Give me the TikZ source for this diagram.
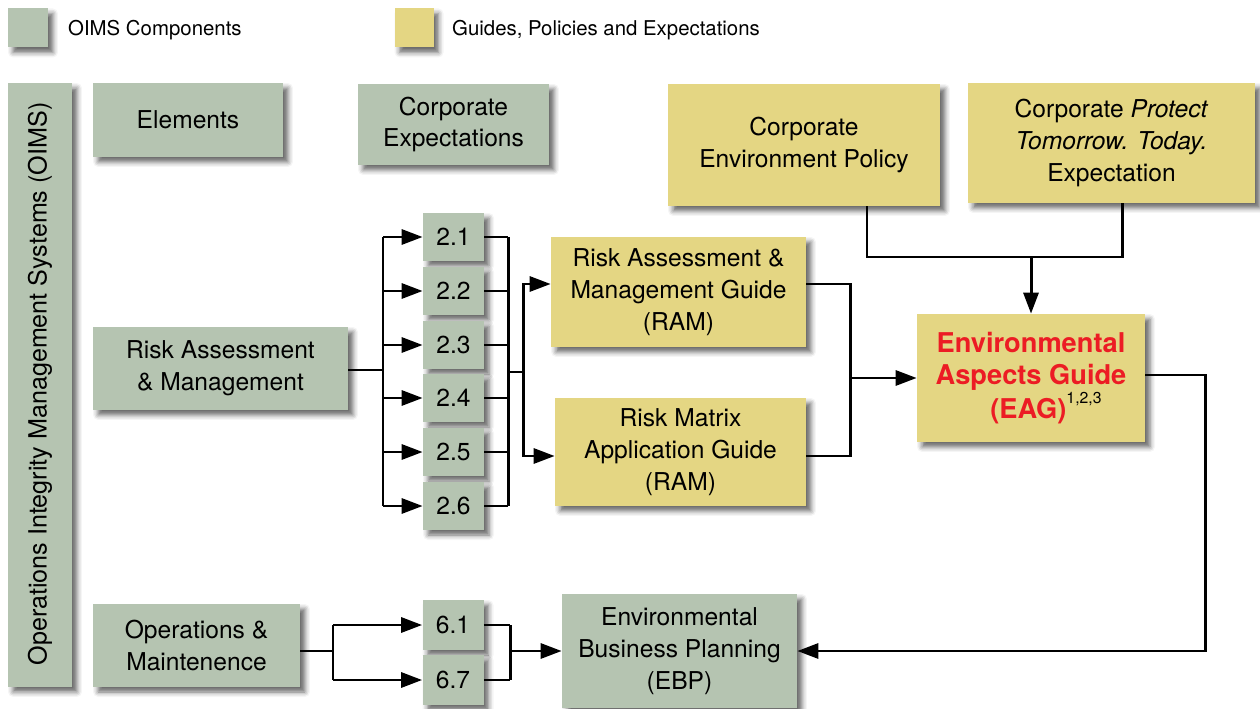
\documentclass[tikz,border=0pt]{standalone}
\usepackage{fontspec}
\setmainfont{TeX Gyre Heros}
\usetikzlibrary{arrows.meta,shadows.blur}

\definecolor{oimsgreen}{RGB}{181,196,177}
\definecolor{guideyellow}{RGB}{228,214,131}
\definecolor{eagred}{RGB}{236,28,36}

\tikzset{
  boxshadow/.style={blur shadow={shadow xshift=0.1cm,shadow yshift=-0.1cm,
    shadow blur radius=0.1cm,shadow opacity=60}},
  comp/.style={fill=oimsgreen,boxshadow,align=center,inner sep=0pt,
    font=\fontsize{14}{18.2}\selectfont},
  guide/.style={fill=guideyellow,boxshadow,align=center,inner sep=0pt,
    font=\fontsize{14}{18.2}\selectfont},
  sub/.style={comp,minimum width=1.22cm,minimum height=0.96cm},
  legend/.style={anchor=west,font=\fontsize{11.6}{13}\selectfont},
  conn/.style={line width=1.7pt},
}

\begin{document}
\begin{tikzpicture}[x=0.02cm,y=-0.02cm,>={Triangle[length=0.42cm,width=0.3cm]}]
\useasboundingbox (0,0) rectangle (1260,709);

% legend
\node[comp,minimum width=0.8cm,minimum height=0.78cm] (leggreen) at (28,28) {};
\node[legend] (legcomp) at (62,30) {OIMS Components};
\node[guide,minimum width=0.78cm,minimum height=0.78cm] (legyellow) at (414,28) {};
\node[legend] (legguide) at (446,30) {Guides, Policies and Expectations};

% column heads
\node[comp,minimum width=1.28cm,minimum height=12.08cm] (oims) at (40,385) {};
\node[rotate=90,font=\fontsize{14.3}{18}\selectfont] (oimstext) at (40,384)
  {Operations Integrity Management Systems (OIMS)};
\node[comp,minimum width=3.8cm,minimum height=1.48cm] (elements) at (188,120) {Elements};
\node[comp,minimum width=3.82cm,minimum height=1.62cm] (corpexp) at (453.5,124.5) {Corporate\\Expectations};
\node[guide,minimum width=5.44cm,minimum height=2.44cm] (policy) at (804,145) {Corporate\\Environment Policy};
\node[guide,minimum width=5.74cm,minimum height=2.4cm] (ptt) at (1111.5,143)
  {Corporate \textit{Protect}\\\textit{Tomorrow. Today.}\\Expectation};

% risk assessment
\node[comp,minimum width=5.1cm,minimum height=1.66cm] (risk) at (220.5,368.5) {Risk Assessment\\\& Management};
\node[sub] (s21) at (453.5,237) {2.1};
\node[sub] (s22) at (453.5,291) {2.2};
\node[sub] (s23) at (453.5,345) {2.3};
\node[sub] (s24) at (453.5,398) {2.4};
\node[sub] (s25) at (453.5,452) {2.5};
\node[sub] (s26) at (453.5,506) {2.6};
\node[guide,minimum width=5.1cm,minimum height=2.2cm] (ramguide) at (678.5,292)
  {Risk Assessment \&\\Management Guide\\(RAM)};
\node[guide,minimum width=5.02cm,minimum height=2.16cm] (matrix) at (680.5,452)
  {Risk Matrix\\Application Guide\\(RAM)};
\node[guide,minimum width=4.56cm,minimum height=2.56cm,
  font=\fontsize{15.5}{18.2}\selectfont\bfseries\color{eagred}] (eag) at (1031,378)
  {Environmental\\Aspects Guide\\\hspace*{17pt}(EAG)\raisebox{0.55em}{\normalfont\fontsize{9}{9}\selectfont\color{black}1,2,3}};

% operations
\node[comp,minimum width=4.14cm,minimum height=1.66cm] (opm) at (196.5,645.5) {Operations \&\\Maintenence};
\node[sub,minimum height=1cm] (s61) at (453,625) {6.1};
\node[sub,minimum height=1cm] (s67) at (453,680) {6.7};
\node[comp,minimum width=4.7cm,minimum height=2.28cm] (ebp) at (679.5,651)
  {Environmental\\Business Planning\\(EBP)};

% connectors
\coordinate (lbus) at (383,370);
\coordinate (rbus) at (508,372);
\coordinate (fork) at (523,372);
\coordinate (merge) at (850,378);
\coordinate (join) at (1031,257);
\coordinate (turn) at (1205,651);
\coordinate (olbus) at (333,651);
\coordinate (orbus) at (510,651);

\draw[conn] (risk.east |- lbus) -- (lbus);
\draw[conn] (lbus |- s21) -- (lbus |- s26);
\foreach \i in {1,...,6} {
  \draw[conn,->] (lbus |- s2\i) -- (s2\i.west);
  \draw[conn] (s2\i.east) -- (rbus |- s2\i);
}
\draw[conn] (rbus |- s21) -- (rbus |- s26);
\draw[conn] (rbus) -- (fork);
\draw[conn,->] (fork) |- ([yshift=0.16cm]ramguide.west);
\draw[conn,->] (fork) |- ([yshift=-0.08cm]matrix.west);
\draw[conn] ([yshift=0.16cm]ramguide.east) -| (merge);
\draw[conn] ([yshift=-0.08cm]matrix.east) -| (merge);
\draw[conn,->] (merge) -- (eag.west);

\draw[conn] ([xshift=1.26cm]policy.south) |- (join) -| ([xshift=0.21cm]ptt.south);
\draw[conn,->] (join) -- (eag.north);
\draw[conn,->] ([yshift=0.06cm]eag.east) -| (turn) -- (ebp.east);

\draw[conn] (opm.east |- olbus) -- (olbus);
\draw[conn] (olbus |- s61) -- (olbus |- s67);
\foreach \i in {61,67} {
  \draw[conn,->] (olbus |- s\i) -- (s\i.west);
  \draw[conn] (s\i.east) -- (orbus |- s\i);
}
\draw[conn] (orbus |- s61) -- (orbus |- s67);
\draw[conn,->] (orbus) -- (ebp.west);
\end{tikzpicture}
\end{document}
